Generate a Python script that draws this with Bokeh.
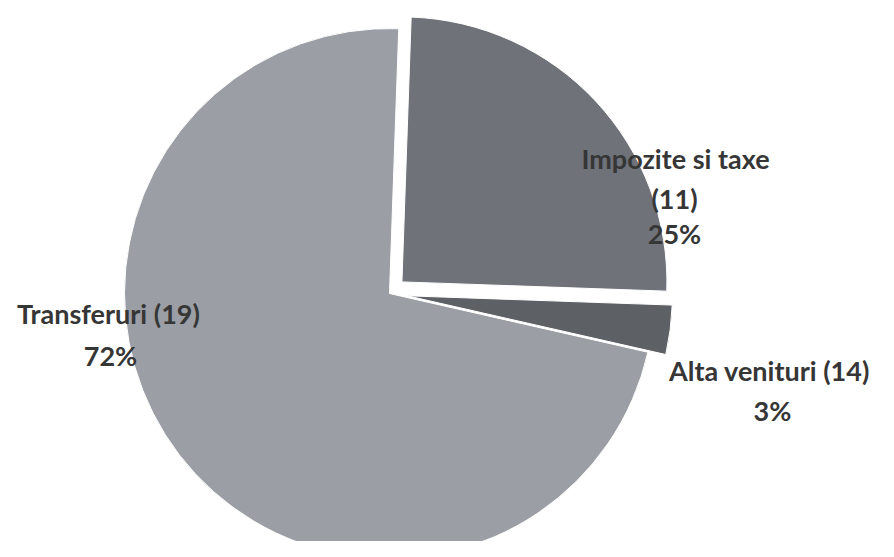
import math
from bokeh.plotting import figure
from bokeh.models import Range1d, ColumnDataSource
from bokeh.core.properties import value
from bokeh.embed import file_html
from bokeh.resources import INLINE

# ---- data ----
categories = ["Impozite si taxe", "Alta venituri", "Transferuri"]
codes = [11, 14, 19]
percents = [25, 3, 72]

# ---- layout / style ----
W, H = 878, 541
colors = ["#6f7278", "#5d6065", "#9b9ea4"]
explode = [17, 18, 0]
start_deg = 88.0
cx, cy, radius = 389, 264, 265
font = "Lato"
fsize = "27px"
txt_color = "#363636"
# label line anchors (pixel x, pixel baseline y), per category
label_lines = [
    [("{name}", 675, 158), ("({code})", 674, 198), ("{pct}%", 674, 233)],
    [("{name} ({code})", 769, 370), ("{pct}%", 772, 410)],
    [("{name} ({code})", 108, 313), ("{pct}%", 110, 355)],
]

p = figure(width=W, height=H, output_backend="svg", toolbar_location=None,
           x_range=Range1d(0, W), y_range=Range1d(557 - H, 557),
           min_border=0)
p.axis.visible = False
p.grid.visible = False
p.outline_line_color = None
p.background_fill_color = "white"
p.border_fill_color = "white"

total = float(sum(percents))
ang = start_deg
xs, ys, sa, ea = [], [], [], []
for i, v in enumerate(percents):
    span = 360.0 * v / total
    a0 = ang
    a1 = ang - span
    mid = math.radians((a0 + a1) / 2)
    xs.append(cx + explode[i] * math.cos(mid))
    ys.append(cy + explode[i] * math.sin(mid))
    sa.append(math.radians(a0))
    ea.append(math.radians(a1))
    ang = a1

src = ColumnDataSource(dict(x=xs, y=ys, start=sa, end=ea, color=colors))
p.wedge(x="x", y="y", radius=radius, start_angle="start", end_angle="end",
        direction="clock", fill_color="color", line_color="white",
        line_width=1, source=src)

tx, ty, tt = [], [], []
for i, lines in enumerate(label_lines):
    for fmt, px, py in lines:
        tx.append(px)
        ty.append(557 - py)
        tt.append(fmt.format(name=categories[i], code=codes[i], pct=percents[i]))

p.text(x=tx, y=ty, text=tt, text_align="center", text_baseline="alphabetic",
       text_font=value(font), text_font_style="bold", text_font_size=fsize,
       text_color=txt_color)

open("out.html", "w").write(file_html(p, INLINE))
